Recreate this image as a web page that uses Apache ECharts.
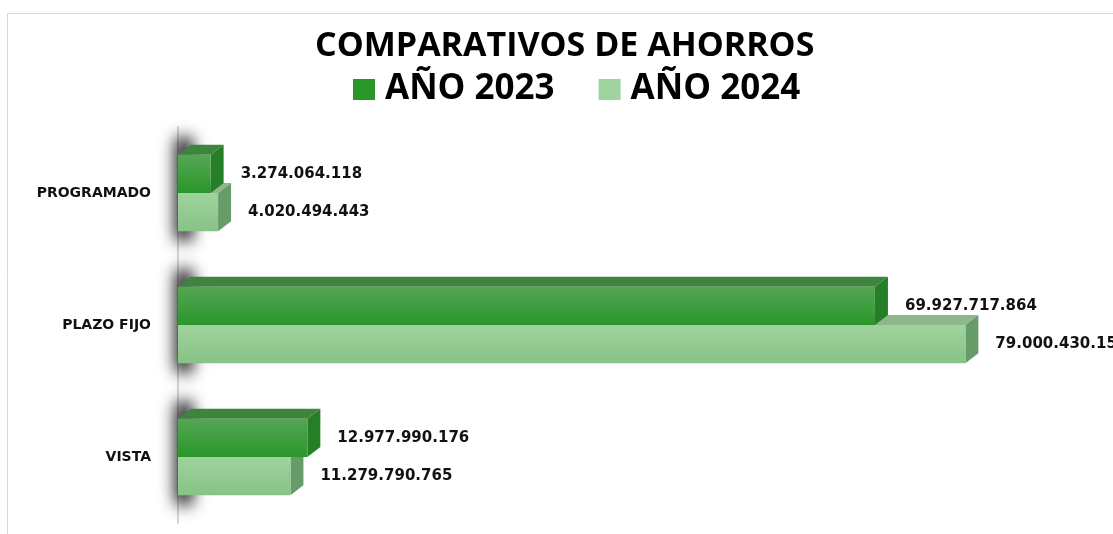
<!DOCTYPE html>
<html>
<head>
<meta charset="utf-8">
<script src="https://cdn.jsdelivr.net/npm/echarts@6/dist/echarts.min.js"></script>
<style>
  html, body { margin: 0; padding: 0; background: #fff; }
  #chart { width: 1113px; height: 534px; }
</style>
</head>
<body>
<div id="chart"></div>
<script>
/* datos */
var categorias = ['PROGRAMADO', 'PLAZO FIJO', 'VISTA'];
var ahorro2023 = [3274064118, 69927717864, 12977990176];
var ahorro2024 = [4020494443, 79000430152, 11279790765];

/* formato 1.234.567 */
function formatoPuntos(v) {
	return String(Math.round(v)).replace(/\B(?=(\d{3})+(?!\d))/g, '.');
}

var DX = 13, DY = 10;// profundidad 3D
var LEJOS = 2000;// la forma de la sombra queda fuera del lienzo, solo se ve su sombra

/* dibuja una barra 3D (frente, techo, lado) */
function barra3D(colores, arriba, sombra) {
	return function (params, api) {
		var origen = api.coord([0, api.value(1)]);
		var fin = api.coord([api.value(0), api.value(1)]);
		var banda = api.size([0, 1])[1];
		var alto = banda * 0.29;
		var x0 = origen[0], x1 = fin[0];
		var y0 = arriba ? fin[1] - alto : fin[1];
		var y1 = y0 + alto;
		var hijos = [];
		if (sombra) {
			// sombra difusa de la pared izquierda
			hijos.push({
				type: 'rect',
				shape: { x: x0 - 3 - LEJOS, y: fin[1] - alto - DY - 8, width: 18, height: alto * 2 + DY + 18, r: 6 },
				style: { fill: '#000', shadowBlur: 16, shadowColor: 'rgba(0,0,0,0.9)', shadowOffsetX: LEJOS }
			});
		}
		hijos.push({
			type: 'polygon',
			shape: { points: [[x0, y0], [x1, y0], [x1 + DX, y0 - DY], [x0 + DX, y0 - DY]] },
			style: { fill: colores.techo }
		});
		hijos.push({
			type: 'polygon',
			shape: { points: [[x1, y0], [x1 + DX, y0 - DY], [x1 + DX, y1 - DY], [x1, y1]] },
			style: { fill: colores.lado }
		});
		hijos.push({
			type: 'rect',
			shape: { x: x0, y: y0, width: x1 - x0, height: alto },
			style: { fill: new echarts.graphic.LinearGradient(0, 0, 0, 1, [
				{ offset: 0, color: colores.frente1 },
				{ offset: 1, color: colores.frente2 }
			]) }
		});
		hijos.push({
			type: 'text',
			style: {
				x: x1 + DX + 17, y: y0 + alto / 2,
				text: formatoPuntos(api.value(0)),
				verticalAlign: 'middle', align: 'left',
				font: 'bold 15px "DejaVu Sans"', fill: '#111'
			}
		});
		return { type: 'group', children: hijos };
	};
}

var colores2023 = { frente1: '#55a655', frente2: '#2a962a', techo: '#3e843e', lado: '#247f26' };
var colores2024 = { frente1: '#9fd39d', frente2: '#87c286', techo: '#8cb88b', lado: '#679b67' };

var myChart = echarts.init(document.getElementById('chart'));
var option = {
	animation: false,
	title: {
		text: 'COMPARATIVOS DE AHORROS',
		left: 310, top: 24,
		textStyle: { fontFamily: 'Open Sans', fontWeight: 'bold', fontSize: 34, color: '#000' }
	},
	legend: {
		top: 67, left: 348,
		itemWidth: 22, itemHeight: 21, itemGap: 44,
		icon: 'rect',
		textStyle: { fontFamily: 'Open Sans', fontWeight: 'bold', fontSize: 35, color: '#000', padding: [0, 0, 0, 5] },
		data: ['AÑO 2023', 'AÑO 2024']
	},
	graphic: [{
		type: 'rect', silent: true,
		shape: { x: 7.5, y: 13.5, width: 1200, height: 600 },
		style: { fill: 'none', stroke: '#d9d9d9', lineWidth: 1 }
	}],
	grid: { left: 178, right: 38, top: 127, bottom: 11 },
	xAxis: { type: 'value', min: 0, max: 90000000000, show: false },
	yAxis: {
		type: 'category', data: categorias, inverse: true, offset: 11,
		axisLine: { lineStyle: { color: '#d6d6d6', width: 2 } },
		axisTick: { length: 4, lineStyle: { color: '#d0d0d0' } },
		axisLabel: { margin: 16, padding: [12, 0, 0, 0], fontFamily: 'DejaVu Sans', fontWeight: 'bold', fontSize: 14, color: '#111' }
	},
	series: [{
		name: 'AÑO 2023', type: 'custom', z: 3,
		itemStyle: { color: '#2a962a' },
		encode: { x: 0, y: 1 },
		data: ahorro2023.map(function (v, i) { return [v, i]; }),
		renderItem: barra3D(colores2023, true, false)
	}, {
		name: 'AÑO 2024', type: 'custom', z: 2,
		itemStyle: { color: '#9fd39d' },
		encode: { x: 0, y: 1 },
		data: ahorro2024.map(function (v, i) { return [v, i]; }),
		renderItem: barra3D(colores2024, false, true)
	}]
};
myChart.setOption(option);
</script>
</body>
</html>
